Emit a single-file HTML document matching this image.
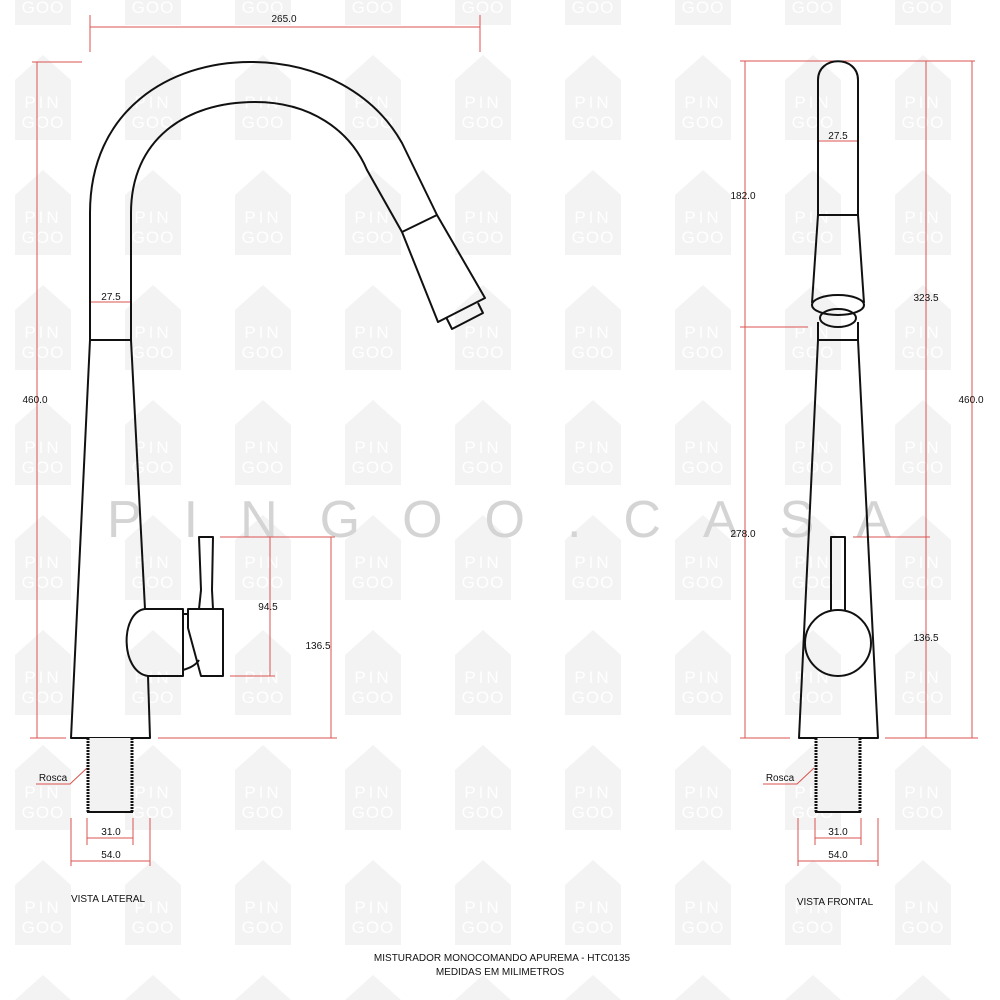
<!DOCTYPE html>
<html><head><meta charset="utf-8"><style>
html,body{margin:0;padding:0;background:#fff}
svg{display:block}
text{font-family:"Liberation Sans",Arial,sans-serif}
</style></head><body>
<svg width="1000" height="1000" viewBox="0 0 1000 1000" xmlns="http://www.w3.org/2000/svg">
<defs>
<pattern id="wm" x="10" y="40" width="110" height="115" patternUnits="userSpaceOnUse">
<path d="M5 40 L33 15 L61 40 L61 100 L5 100 Z" fill="#f3f3f3"/>
<text x="33" y="68" font-size="17" fill="#fff" text-anchor="middle" letter-spacing="3">PIN</text>
<text x="33" y="88" font-size="17" fill="#fff" text-anchor="middle" letter-spacing="1">GOO</text>
</pattern>
</defs>
<rect width="1000" height="1000" fill="url(#wm)"/>
<text x="520" y="537" font-size="52" fill="#d4d4d4" text-anchor="middle" letter-spacing="42">PINGOO.CASA</text>

<g stroke="#d9534f" stroke-width="1" fill="none">
<line x1="90" y1="27" x2="480" y2="27"/><line x1="90" y1="15" x2="90" y2="52"/><line x1="480" y1="15" x2="480" y2="52"/>
<line x1="37" y1="62" x2="37" y2="738"/><line x1="32" y1="62" x2="82" y2="62"/><line x1="30" y1="738" x2="66" y2="738"/>
<line x1="90" y1="302" x2="131" y2="302"/>
<line x1="220" y1="537" x2="335" y2="537"/><line x1="230" y1="676" x2="275" y2="676"/>
<line x1="270" y1="537" x2="270" y2="676"/><line x1="331" y1="537" x2="331" y2="738"/>
<line x1="158" y1="738" x2="337" y2="738"/>
<line x1="87" y1="818" x2="87" y2="845"/><line x1="133" y1="818" x2="133" y2="845"/><line x1="87" y1="838" x2="133" y2="838"/>
<line x1="71" y1="818" x2="71" y2="866"/><line x1="150" y1="818" x2="150" y2="866"/><line x1="71" y1="861" x2="150" y2="861"/>
<polyline points="36,784 70,784 87,768"/>
<line x1="740" y1="61" x2="975" y2="61"/>
<line x1="745" y1="61" x2="745" y2="738"/><line x1="740" y1="327" x2="808" y2="327"/>
<line x1="926" y1="61" x2="926" y2="738"/><line x1="972" y1="61" x2="972" y2="738"/>
<line x1="853" y1="537" x2="930" y2="537"/>
<line x1="740" y1="738" x2="790" y2="738"/><line x1="885" y1="738" x2="978" y2="738"/>
<line x1="818" y1="141" x2="858" y2="141"/>
<line x1="815" y1="818" x2="815" y2="845"/><line x1="861" y1="818" x2="861" y2="845"/><line x1="815" y1="838" x2="861" y2="838"/>
<line x1="798" y1="818" x2="798" y2="866"/><line x1="878" y1="818" x2="878" y2="866"/><line x1="798" y1="861" x2="878" y2="861"/>
<polyline points="763,784 797,784 814,768"/>
</g>

<g stroke="#111" stroke-width="2" fill="none" stroke-linejoin="round">
<path d="M90 340 L90 213 C90 110 170 62 250 62 C320 62 375 95 402 143 L437 215"/>
<path d="M131 340 L131 213 C131 140 185 102 255 102 C310 102 350 130 367 170 L402 232"/>
<path d="M402 232 L437 215 L485 298 L438 322 Z"/>
<path d="M446 317 L452 329 L483 313 L478 303"/>
<line x1="90" y1="340" x2="131" y2="340"/>
<path d="M90 340 L71 738 L150 738 L148 676"/>
<path d="M131 340 L145 609"/>
<path d="M145 609 L183 609 L183 676 L148 676 C120 672 120 612 145 609 Z"/>
<path d="M183 614 L188 614 M183 670 C190 668 196 665 199 660"/>
<path d="M188 609 L223 609 L223 676 L201 676 L188 628 Z"/>
<path d="M199 609 L201 590 L199 537 L213 537 L212 590 L213 609"/>
<path d="M818 215 L818 80 C818 55 858 55 858 80 L858 215 Z"/>
<path d="M818 215 L812 303 M858 215 L864 303"/>
<ellipse cx="838" cy="305" rx="26" ry="10"/>
<ellipse cx="838" cy="318" rx="18" ry="9"/>
<path d="M818 322 L818 340 L799 738 L878 738 L858 340 L858 322"/>
<line x1="818" y1="340" x2="858" y2="340"/>
<circle cx="838" cy="643" r="33"/>
<path d="M831 610 L831 537 L845 537 L845 610"/>
</g>

<g>
<rect x="87" y="738" width="46" height="74" fill="#f2f2f2"/>
<rect x="815" y="738" width="46" height="74" fill="#f2f2f2"/>
<g stroke="#111" stroke-width="3" stroke-dasharray="2,1">
<line x1="88" y1="738" x2="88" y2="812"/><line x1="132" y1="738" x2="132" y2="812"/>
<line x1="816" y1="738" x2="816" y2="812"/><line x1="860" y1="738" x2="860" y2="812"/>
</g>
<line x1="87" y1="812" x2="133" y2="812" stroke="#111" stroke-width="2"/>
<line x1="815" y1="812" x2="861" y2="812" stroke="#111" stroke-width="2"/>
</g>

<g font-size="10" fill="#111" text-anchor="middle">
<text x="284" y="22">265.0</text>
<text x="35" y="403">460.0</text>
<text x="111" y="300">27.5</text>
<text x="268" y="610">94.5</text>
<text x="318" y="649">136.5</text>
<text x="53" y="781">Rosca</text>
<text x="111" y="835">31.0</text>
<text x="111" y="858">54.0</text>
<text x="108" y="902">VISTA LATERAL</text>
<text x="743" y="199">182.0</text>
<text x="743" y="537">278.0</text>
<text x="838" y="139">27.5</text>
<text x="926" y="301">323.5</text>
<text x="971" y="403">460.0</text>
<text x="926" y="641">136.5</text>
<text x="780" y="781">Rosca</text>
<text x="838" y="835">31.0</text>
<text x="838" y="858">54.0</text>
<text x="835" y="905">VISTA FRONTAL</text>
<text x="502" y="961">MISTURADOR MONOCOMANDO APUREMA - HTC0135</text>
<text x="500" y="975">MEDIDAS EM MILIMETROS</text>
</g>
</svg>
</body></html>
